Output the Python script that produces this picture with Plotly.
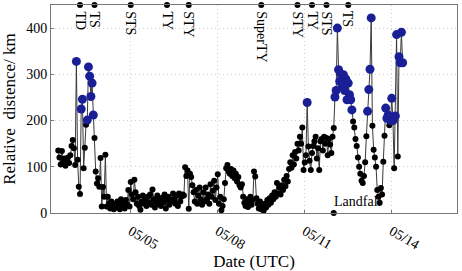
import pandas as pd
import plotly.graph_objects as go

start_time = "2015-05-02 12:00"
distance_km = [
    135, 120, 105, 134, 110, 118, 102, 113, 120, 108, 125, 145, 158, 140, 104, 328, 115, 57, 41, 225, 246, 97, 141, 191,
    201, 316, 296, 252, 281, 212, 162, 90, 64, 75, 57, 119, 14, 56, 35, 126, 14, 35, 20, 10, 25, 15, 8, 20,
    12, 25, 18, 8, 30, 15, 22, 10, 28, 18, 50, 14, 67, 40, 30, 72, 45, 20, 35, 15, 7, 25, 38, 20,
    28, 15, 35, 22, 40, 18, 51, 30, 12, 25, 38, 20, 30, 15, 33, 22, 40, 10, 28, 35, 18, 30, 25, 42,
    30, 20, 38, 15, 42, 25, 35, 40, 38, 99, 80, 92, 9, 85, 78, 60, 45, 25, 50, 20, 38, 55, 30, 18,
    45, 25, 55, 30, 40, 20, 62, 35, 48, 70, 28, 55, 84, 20, 35, 6, 15, 30, 65, 97, 104, 90, 85, 95,
    80, 92, 75, 85, 68, 78, 60, 55, 62, 35, 22, 15, 30, 13, 25, 35, 18, 28, 90, 79, 32, 20, 10, 25,
    8, 15, 5, 20, 12, 28, 18, 32, 22, 38, 30, 45, 35, 65, 42, 55, 40, 60, 50, 72, 58, 80, 68, 95,
    110, 98, 125, 105, 132, 118, 150, 135, 165, 150, 185, 93, 109, 125, 239, 144, 113, 93, 130, 145, 155, 165, 118, 140,
    93, 155, 160, 135, 165, 150, 162, 125, 160, 148, 130, 165, 184, 251, 265, 400, 310, 285, 300, 275, 299, 265, 290, 245,
    281, 256, 245, 223, 198, 185, 160, 145, 120, 100, 85, 70, 65, 80, 110, 166, 220, 267, 311, 422, 189, 137, 120, 100,
    50, 35, 22, 54, 40, 111, 167, 227, 205, 212, 190, 200, 248, 200, 97, 210, 386, 122, 338, 325, 391, 325,
]
threshold = 200

stage_labels = ["TD", "TS", "STS", "TY", "STY", "SuperTY", "STY", "TY", "STS", "TS"]
stage_times = ["2015-05-03 06:00", "2015-05-03 18:00", "2015-05-05 00:00", "2015-05-06 06:00",
               "2015-05-07 00:00", "2015-05-09 12:00", "2015-05-10 18:00", "2015-05-11 06:00",
               "2015-05-11 18:00", "2015-05-12 12:00"]
landfall_time = "2015-05-12 00:00"
landfall_label = "Landfall"

tick_dates = ["2015-05-05", "2015-05-08", "2015-05-11", "2015-05-14"]
tick_text = ["05/05", "05/08", "05/11", "05/14"]
x_range = ["2015-05-02 06:00", "2015-05-16 06:00"]
y_max = 450
y_ticks = [0, 100, 200, 300, 400]

times = pd.date_range(start_time, periods=len(distance_km), freq="h")
df = pd.DataFrame({"t": times, "d": distance_km})
low = df[df.d < threshold]
high = df[df.d >= threshold]

FONT = "Liberation Serif"
fig = go.Figure()
fig.add_trace(go.Scatter(x=df.t, y=df.d, mode="lines", line=dict(color="#3a3a3a", width=1),
                         hoverinfo="skip", showlegend=False))
fig.add_trace(go.Scatter(x=low.t, y=low.d, mode="markers", marker=dict(color="black", size=6),
                         showlegend=False))
fig.add_trace(go.Scatter(x=high.t, y=high.d, mode="markers", marker=dict(color="#1b1f96", size=9),
                         showlegend=False, cliponaxis=False))
fig.add_trace(go.Scatter(x=stage_times, y=[y_max] * len(stage_times), mode="markers",
                         marker=dict(color="black", size=6), cliponaxis=False, showlegend=False))
fig.add_trace(go.Scatter(x=[landfall_time], y=[0], mode="markers",
                         marker=dict(color="black", size=6), cliponaxis=False, showlegend=False))

for lab, t in zip(stage_labels, stage_times):
    fig.add_annotation(x=t, y=y_max, xref="x", yref="y", text=lab, textangle=90,
                       showarrow=False, xanchor="center", yanchor="top", yshift=-4,
                       font=dict(family=FONT, size=14, color="black"))
fig.add_annotation(x=landfall_time, y=0, xref="x", yref="y", text=landfall_label,
                   showarrow=False, xanchor="left", yanchor="bottom", yshift=2, xshift=-2,
                   font=dict(family=FONT, size=14, color="black"))

fig.update_layout(
    width=462, height=271,
    margin=dict(l=51, r=5, t=5, b=58),
    paper_bgcolor="white", plot_bgcolor="white",
    font=dict(family=FONT, size=14, color="black"),
    xaxis=dict(type="date", range=x_range, tickvals=tick_dates, ticktext=tick_text,
               tickangle=30, showline=True, mirror=True, linecolor="#777", linewidth=1,
               showgrid=True, gridcolor="#d0d0d0", griddash="1px,3px", zeroline=False,
               ticks="inside", ticklen=3, tickcolor="#777", automargin=False,
               ticklabelstandoff=4,
               title=dict(text="Date (UTC)", standoff=6)),
    yaxis=dict(range=[0, y_max], tickvals=y_ticks, showline=True, mirror=True,
               linecolor="#777", linewidth=1, showgrid=True, gridcolor="#d0d0d0",
               griddash="1px,3px", zeroline=False, ticks="inside", ticklen=3, tickcolor="#777",
               automargin=False,
               title=dict(text="Relative\u00a0 distence/ km", standoff=6)),
)
fig.write_html("out.html", config={"displayModeBar": False},
               post_script="document.body.style.margin='0';")
